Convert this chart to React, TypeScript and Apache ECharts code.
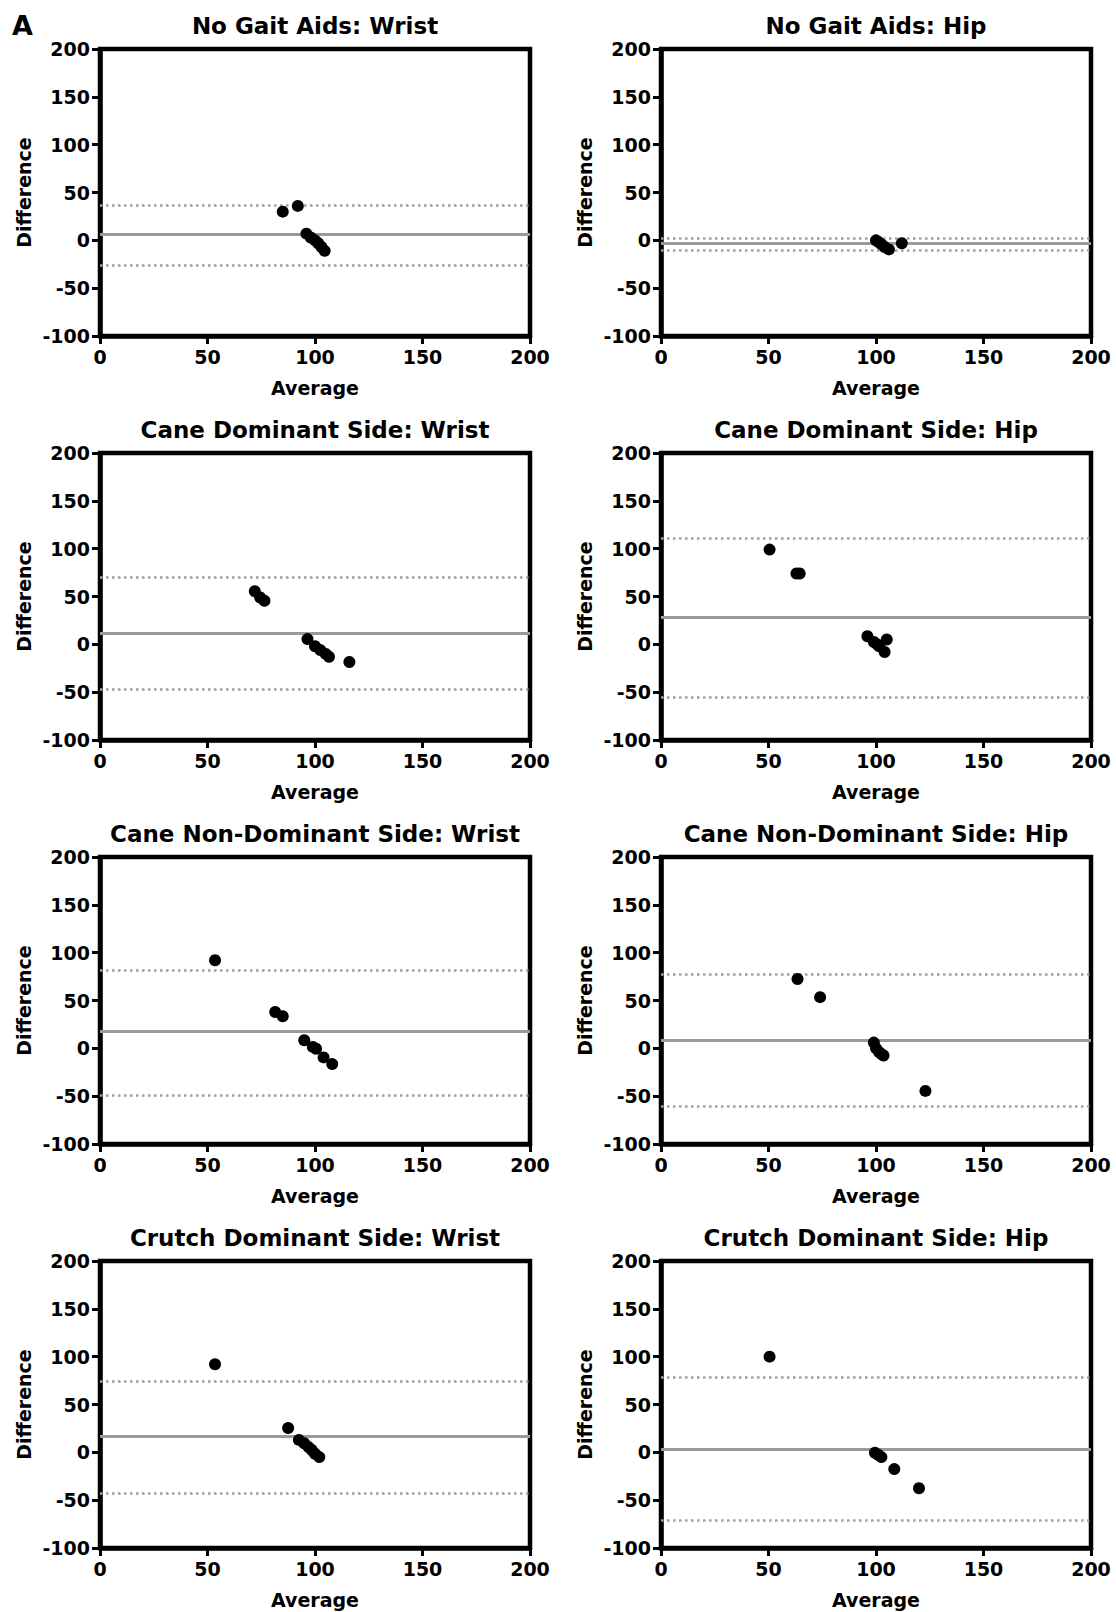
import React, { useEffect, useRef } from "react";
import * as echarts from "echarts";

const panelTitles = [
  "No Gait Aids: Wrist",
  "No Gait Aids: Hip",
  "Cane Dominant Side: Wrist",
  "Cane Dominant Side: Hip",
  "Cane Non-Dominant Side: Wrist",
  "Cane Non-Dominant Side: Hip",
  "Crutch Dominant Side: Wrist",
  "Crutch Dominant Side: Hip",
];

const xTicks = [0, 50, 100, 150, 200];
const yTicks = [-100, -50, 0, 50, 100, 150, 200];

const noAidsWristAvg = [85, 92, 96, 98, 100, 101.5, 103, 104.5];
const noAidsWristDiff = [30, 36, 7, 3, 0, -3, -7, -11];
const noAidsHipAvg = [100, 101, 102.5, 104, 106, 112];
const noAidsHipDiff = [0, -1.5, -4, -7, -9.5, -3];
const caneDomWristAvg = [72, 74.5, 76.5, 96.5, 100, 102.5, 105, 106.5, 116];
const caneDomWristDiff = [55.5, 49, 45.5, 5.5, -2, -6, -10, -13, -18.5];
const caneDomHipAvg = [50.5, 63, 64.5, 96, 99, 100.5, 101.5, 104, 105];
const caneDomHipDiff = [99, 74, 74, 8.5, 2.5, 0, -2, -8, 5];
const caneNonWristAvg = [53.5, 81.5, 85, 95, 99, 100.5, 104, 108];
const caneNonWristDiff = [92, 38, 33.5, 8.5, 1.5, -0.5, -9.5, -16.5];
const caneNonHipAvg = [63.5, 74, 99, 100, 101.5, 102.5, 103.5, 123];
const caneNonHipDiff = [72.5, 53.5, 6, 0, -4, -6, -7.5, -44.5];
const crutchWristAvg = [53.5, 87.5, 92.5, 95, 97, 98.5, 100, 102];
const crutchWristDiff = [92, 25.5, 13, 9.5, 5.5, 2.5, -1.5, -5];
const crutchHipAvg = [50.5, 99.5, 101, 102.5, 108.5, 120];
const crutchHipDiff = [100, -0.5, -2.5, -5, -17.5, -37.5];

const meanDiff = [6, -3.5, 12, 28, 17.5, 8, 16.5, 3.5];
const upperLoA = [37, 2.5, 70, 111, 82, 77, 74, 78];
const lowerLoA = [-26, -10, -47, -55, -49.5, -61, -43, -71.5];

const avgSets = [
  noAidsWristAvg, noAidsHipAvg, caneDomWristAvg, caneDomHipAvg,
  caneNonWristAvg, caneNonHipAvg, crutchWristAvg, crutchHipAvg,
];
const diffSets = [
  noAidsWristDiff, noAidsHipDiff, caneDomWristDiff, caneDomHipDiff,
  caneNonWristDiff, caneNonHipDiff, crutchWristDiff, crutchHipDiff,
];

const FONT = "'DejaVu Sans', 'Liberation Sans', Arial, sans-serif";
const colLefts = [100, 661];
const rowTops = [49, 453, 857, 1261];
const GW = 430;
const GH = 287;

export default function App() {
  const ref = useRef<HTMLDivElement>(null);
  useEffect(() => {
    if (!ref.current) return;
    const chart = echarts.init(ref.current, undefined, { renderer: "svg" });
    const grids: any[] = [];
    const xAxes: any[] = [];
    const yAxes: any[] = [];
    const series: any[] = [];
    const graphics: any[] = [];
    const labelStyle = { fontSize: 19, fontWeight: "bold", color: "#000", fontFamily: FONT };
    panelTitles.forEach((t, i) => {
      const left = colLefts[i % 2];
      const top = rowTops[Math.floor(i / 2)];
      grids.push({
        left, top, width: GW, height: GH, show: true,
        borderColor: "#000", borderWidth: 4.5, backgroundColor: "transparent",
      });
      xAxes.push({
        gridIndex: i, type: "value", min: xTicks[0], max: xTicks[xTicks.length - 1],
        interval: 50,
        axisLine: { show: true, onZero: false, lineStyle: { color: "#000", width: 4.5 } },
        axisTick: { show: true, length: 8, lineStyle: { color: "#000", width: 3 } },
        axisLabel: { ...labelStyle, margin: 11 },
        splitLine: { show: false },
        name: "Average", nameLocation: "middle", nameGap: 42,
        nameTextStyle: { ...labelStyle },
      });
      yAxes.push({
        gridIndex: i, type: "value", min: yTicks[0], max: yTicks[yTicks.length - 1],
        interval: 50,
        axisLine: { show: true, onZero: false, lineStyle: { color: "#000", width: 4.5 } },
        axisTick: { show: true, length: 8, lineStyle: { color: "#000", width: 3 } },
        axisLabel: { ...labelStyle, margin: 10 },
        splitLine: { show: false },
        name: "Difference", nameLocation: "middle", nameGap: 67,
        nameTextStyle: { ...labelStyle },
      });
      series.push({
        type: "scatter", xAxisIndex: i, yAxisIndex: i, z: 3,
        symbol: "circle", symbolSize: 12,
        itemStyle: { color: "#000", opacity: 1 },
        data: avgSets[i].map((a, k) => [a, diffSets[i][k]]),
        markLine: {
          silent: true, symbol: "none", z: 1, animation: false,
          label: { show: false },
          data: [
            { yAxis: meanDiff[i], lineStyle: { type: "solid", color: "#9a9a9a", width: 3 } },
            { yAxis: upperLoA[i], lineStyle: { type: [2.5, 3.5], color: "#a0a0a0", width: 2.5 } },
            { yAxis: lowerLoA[i], lineStyle: { type: [2.5, 3.5], color: "#a0a0a0", width: 2.5 } },
          ],
        },
      });
      graphics.push({
        type: "text", x: left + GW / 2, y: top - 23,
        style: {
          text: t, font: `bold 23px ${FONT}`, fill: "#000",
          align: "center", verticalAlign: "middle",
          textAlign: "center", textVerticalAlign: "middle",
        },
      });
    });
    graphics.push({
      type: "text", x: 12, y: 12,
      style: { text: "A", font: `bold 27px ${FONT}`, fill: "#000" },
    });
    chart.setOption({
      animation: false,
      backgroundColor: "#fff",
      grid: grids,
      xAxis: xAxes,
      yAxis: yAxes,
      series,
      graphic: graphics,
    });
    return () => chart.dispose();
  }, []);
  return (
    <div
      ref={ref}
      style={{ position: "absolute", left: 0, top: 0, width: 1116, height: 1612 }}
    />
  );
}
